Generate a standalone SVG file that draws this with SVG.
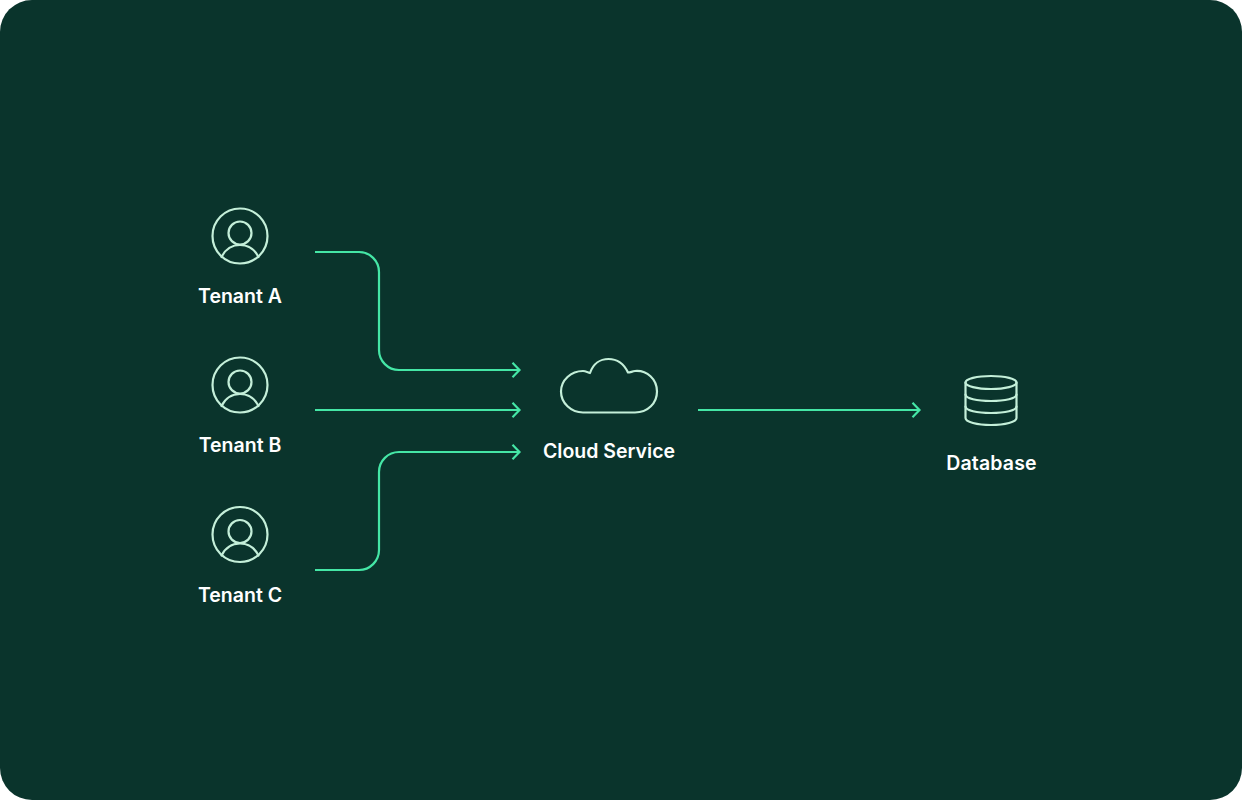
<svg xmlns="http://www.w3.org/2000/svg" width="1242" height="800" viewBox="0 0 1242 800">
<style>
.lbl{font-family:Inter,"Liberation Sans",sans-serif;font-size:19.5px;font-weight:600;fill:#fff;text-anchor:middle}
.ic{fill:none;stroke:#c4efd9;stroke-width:2.200;stroke-linejoin:round;stroke-linecap:round}
.cn{fill:none;stroke:#45e6a6;stroke-width:2.200;stroke-linecap:butt;stroke-linejoin:miter}
</style>
<defs>
<g id="person">
<circle cx="0" cy="0" r="27.500" class="ic"/>
<circle cx="0" cy="-3" r="11.500" class="ic"/>
<path d="M-18.500 21 C-14 12 -7 9 0 9 C7 9 14 12 18.500 21" class="ic"/>
</g>
</defs>
<rect width="1242" height="800" rx="32" fill="#0a342c"/>
<g id="connectors">
<path class="cn" d="M315 252H359A20 20 0 0 1 379 272V350A20 20 0 0 0 399 370H519.500M512.500 362.800L519.500 370L512.500 377.200"/>
<path class="cn" d="M315 410H519.500M512.500 402.800L519.500 410L512.500 417.200"/>
<path class="cn" d="M315 570H359A20 20 0 0 0 379 550V472A20 20 0 0 1 399 452H519.500M512.500 444.800L519.500 452L512.500 459.200"/>
<path class="cn" d="M698 410H920M912.500 402.800L919.500 410L912.500 417.200"/>
</g>
<g id="tenant-a"><use href="#person" x="240" y="236"/><text class="lbl" x="240" y="303.300">Tenant A</text></g>
<g id="tenant-b"><use href="#person" x="240" y="385"/><text class="lbl" x="240" y="452.300">Tenant B</text></g>
<g id="tenant-c"><use href="#person" x="240" y="534.500"/><text class="lbl" x="240" y="602">Tenant C</text></g>
<g id="cloud-service">
<path class="ic" d="M583 412.500H635C648 412.500 657 403 657 391.500C657 379 647 370 635 371C632 371.500 630 372.500 628 372.500C624 364 617 359 608.500 359C600 359 593 364 590 373C587 372 585 371 583 371C571 371 561 380 561 391.500C561 403 571 412.500 583 412.500Z"/>
<text class="lbl" x="609" y="458">Cloud Service</text>
</g>
<g id="database">
<ellipse cx="991" cy="382.500" rx="25.500" ry="6.500" class="ic"/>
<path class="ic" d="M965.500 382.500V418C965.500 422 977 425 991 425C1005 425 1016.500 422 1016.500 418V382.500"/>
<path class="ic" d="M965.500 394.500C965.500 398.500 977 401 991 401C1005 401 1016.500 398.500 1016.500 394.500"/>
<path class="ic" d="M965.500 406.500C965.500 410.500 977 413 991 413C1005 413 1016.500 410.500 1016.500 406.500"/>
<text class="lbl" x="991.500" y="470" style="letter-spacing:.15px">Database</text>
</g>
</svg>
